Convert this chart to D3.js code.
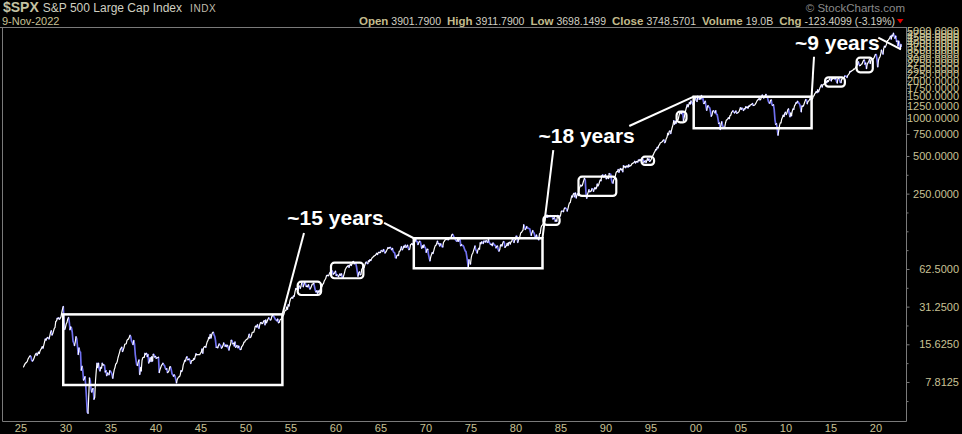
<!DOCTYPE html>
<html><head><meta charset="utf-8">
<script src="https://cdn.jsdelivr.net/npm/d3@7"></script>
<style>body{margin:0;background:#000}svg{display:block}</style>
</head><body><svg id="c" width="962" height="434"></svg>
<script>
// ---------------- DATA ----------------
const firstYear = 1925;
// monthly closes, one row per year (Jan..Dec); 2022 ends on 9-Nov
const monthlyCloses = [
/*1925*/[null,null,null,10.3,10.6,10.9,11.1,11.2,11.4,11.9,12.2,12.5],
/*1926*/[12.6,12.4,11.6,11.5,11.7,12.1,12.6,13.0,13.2,12.8,13.1,13.5],
/*1927*/[13.2,13.8,14.2,14.5,14.9,14.6,15.3,16.3,17.2,16.9,17.4,17.7],
/*1928*/[17.5,17.3,18.2,19.4,20.0,18.6,19.0,19.9,20.9,21.3,23.8,24.0],
/*1929*/[25.2,25.1,25.4,24.8,25.2,25.9,28.0,29.9,31.3,23.5,20.6,21.4],
/*1930*/[22.8,23.4,24.9,25.5,23.6,20.5,21.5,21.1,19.5,16.6,16.0,15.3],
/*1931*/[16.3,17.9,17.3,15.0,13.0,14.6,13.6,13.5,9.7,10.4,9.7,8.1],
/*1932*/[8.3,8.6,7.3,5.8,4.5,4.4,6.1,8.4,8.0,6.9,6.5,6.9],
/*1933*/[6.9,5.7,5.9,8.0,9.6,11.0,10.2,11.0,9.9,9.6,10.2,10.1],
/*1934*/[11.0,10.7,10.7,10.6,9.4,9.6,8.8,9.2,9.1,8.95,9.6,9.5],
/*1935*/[9.3,9.0,8.4,9.1,9.8,10.2,10.9,11.0,11.4,12.2,12.8,13.4],
/*1936*/[14.2,14.5,14.8,13.7,14.1,14.7,15.6,15.7,15.8,16.8,17.1,17.2],
/*1937*/[17.8,18.4,18.0,16.6,16.2,15.6,16.7,15.7,13.0,11.7,10.7,10.6],
/*1938*/[11.3,11.7,9.0,10.2,9.6,11.6,12.2,12.3,12.3,13.2,13.0,13.2],
/*1939*/[12.5,12.9,11.1,11.5,12.2,11.4,12.4,11.5,13.0,12.9,12.4,12.5],
/*1940*/[12.1,12.2,12.2,12.3,9.3,9.8,10.2,10.6,10.8,11.0,10.7,10.6],
/*1941*/[10.1,9.9,9.95,9.3,9.4,9.6,10.3,10.3,9.8,9.1,8.9,8.7],
/*1942*/[8.9,8.7,8.2,7.7,8.2,8.4,8.6,8.6,8.9,9.6,9.5,9.8],
/*1943*/[10.7,11.1,11.6,11.5,12.2,12.4,11.8,11.8,11.9,11.6,11.0,11.5],
/*1944*/[11.6,11.6,12.0,11.9,12.5,13.1,12.9,12.9,12.9,12.9,12.9,13.3],
/*1945*/[13.5,14.3,13.3,14.6,14.9,15.0,14.8,15.6,16.4,16.8,17.7,17.4],
/*1946*/[18.7,17.6,18.7,19.3,19.5,18.6,18.1,16.8,14.8,14.8,14.7,15.3],
/*1947*/[15.7,15.4,15.2,14.6,14.8,15.3,16.0,15.4,15.1,15.4,15.0,15.3],
/*1948*/[14.7,14.1,15.1,15.5,16.8,16.7,15.8,15.9,15.2,16.3,14.8,15.2],
/*1949*/[15.2,14.7,15.1,14.7,14.2,14.2,15.0,15.2,15.6,16.3,16.3,16.8],
/*1950*/[17.0,17.2,17.3,18.0,18.8,17.7,17.8,18.4,19.5,19.5,19.5,20.4],
/*1951*/[21.7,21.8,21.5,22.4,21.5,21.0,22.4,23.3,23.3,22.9,23.0,23.8],
/*1952*/[24.1,22.4,24.4,23.3,24.0,24.9,25.4,25.0,24.5,24.5,26.0,26.6],
/*1953*/[26.4,25.9,25.3,24.6,24.5,24.1,24.8,23.3,23.4,24.5,24.8,24.8],
/*1954*/[26.1,26.2,26.9,28.3,29.2,29.2,30.9,29.8,32.3,31.7,34.2,36.0],
/*1955*/[36.6,37.0,36.6,38.0,37.9,41.0,43.5,43.2,43.7,42.3,45.5,45.5],
/*1956*/[43.8,45.3,48.5,48.4,45.2,47.0,49.4,47.5,45.4,45.6,45.1,46.7],
/*1957*/[44.7,43.3,44.1,45.7,47.4,47.4,47.9,45.2,42.4,41.1,41.7,40.0],
/*1958*/[41.7,40.8,42.1,43.4,44.1,45.2,47.2,47.8,50.1,51.3,52.5,55.2],
/*1959*/[55.5,55.4,55.4,57.6,58.7,58.5,60.5,59.6,56.9,57.5,58.3,59.9],
/*1960*/[55.6,56.1,55.3,54.4,55.8,56.9,55.5,57.0,53.5,53.4,55.5,58.1],
/*1961*/[61.8,63.4,65.1,65.3,66.6,64.6,66.8,68.1,66.7,68.6,71.3,71.6],
/*1962*/[68.8,70.0,69.6,65.2,59.6,54.8,58.2,59.1,56.3,56.5,62.3,63.1],
/*1963*/[66.2,64.3,66.6,69.8,70.8,69.4,69.1,72.5,71.7,74.0,73.2,75.0],
/*1964*/[77.0,77.8,79.0,79.5,80.4,81.7,83.2,81.8,84.2,84.9,84.4,84.8],
/*1965*/[87.6,87.4,86.2,89.1,88.4,84.1,85.3,87.2,90.0,92.4,91.6,92.4],
/*1966*/[92.9,91.2,89.2,91.1,86.1,84.7,83.6,77.1,76.6,80.2,80.5,80.3],
/*1967*/[86.6,86.8,90.2,94.0,89.1,90.6,94.8,93.6,96.7,93.3,94.0,96.5],
/*1968*/[92.2,89.4,90.2,97.5,98.7,99.6,97.7,98.9,102.7,103.4,108.4,103.9],
/*1969*/[103.0,98.1,101.5,103.7,103.5,97.7,91.8,95.5,93.1,97.1,93.8,92.1],
/*1970*/[85.0,89.5,89.6,81.5,76.6,72.7,78.1,81.5,84.3,83.3,87.2,92.2],
/*1971*/[95.9,96.8,100.3,104.0,99.6,99.7,95.6,99.0,98.3,94.2,94.0,102.1],
/*1972*/[103.9,106.6,107.2,107.7,109.5,107.1,107.4,111.1,110.6,111.6,116.7,118.1],
/*1973*/[116.0,111.7,111.5,107.0,105.0,104.3,108.2,104.3,108.4,108.3,96.0,97.6],
/*1974*/[96.6,96.2,94.0,90.3,87.3,86.0,79.3,72.2,63.5,73.9,70.0,68.6],
/*1975*/[77.0,81.6,83.4,87.3,91.2,95.2,88.8,86.9,83.9,89.0,91.2,90.2],
/*1976*/[100.9,99.7,102.8,101.6,100.2,104.3,103.4,102.9,105.2,102.9,102.1,107.5],
/*1977*/[102.0,99.8,98.4,98.4,96.1,100.5,98.9,96.8,96.5,92.3,94.8,95.1],
/*1978*/[89.3,87.0,89.2,97.0,97.3,95.5,100.7,103.3,102.5,93.2,94.7,96.1],
/*1979*/[99.9,96.3,101.6,101.8,99.1,102.9,103.8,109.3,109.3,101.8,106.2,107.9],
/*1980*/[114.2,113.7,102.1,106.3,111.2,114.2,121.7,122.4,125.5,127.5,140.5,135.8],
/*1981*/[129.6,131.3,136.0,132.8,132.6,131.2,130.9,122.8,116.2,121.9,126.4,122.6],
/*1982*/[120.4,113.1,112.0,116.4,111.9,109.6,107.1,119.5,120.4,133.7,138.5,140.6],
/*1983*/[145.3,148.1,153.0,164.4,162.4,168.1,162.6,164.4,166.1,163.6,166.4,164.9],
/*1984*/[163.4,157.1,159.2,160.1,150.6,153.2,150.7,166.7,166.1,166.1,163.6,167.2],
/*1985*/[179.6,181.2,180.7,179.8,189.6,191.9,190.9,188.6,182.1,189.8,202.2,211.3],
/*1986*/[211.8,226.9,238.9,235.5,247.4,250.8,236.1,252.9,231.3,244.0,249.2,242.2],
/*1987*/[274.1,284.2,291.7,288.4,290.1,304.0,318.7,329.8,321.8,251.8,230.3,247.1],
/*1988*/[257.1,267.8,258.9,261.3,262.2,273.5,272.0,261.5,271.9,279.0,273.7,277.7],
/*1989*/[297.5,288.9,294.9,309.6,320.5,318.0,346.1,351.5,349.2,340.4,346.0,353.4],
/*1990*/[329.1,331.9,339.9,330.8,361.2,358.0,356.2,322.6,306.1,304.0,322.2,330.2],
/*1991*/[343.9,367.1,375.2,375.3,389.8,371.2,387.8,395.4,387.9,392.5,375.2,417.1],
/*1992*/[408.8,412.7,403.7,415.0,415.4,408.1,424.2,414.0,417.8,418.7,431.4,435.7],
/*1993*/[438.8,443.4,451.7,440.2,450.2,450.5,448.1,463.6,458.9,467.8,461.8,466.5],
/*1994*/[481.6,467.1,445.8,450.9,456.5,444.3,458.3,475.5,462.7,472.4,453.7,459.3],
/*1995*/[470.4,487.4,500.7,514.7,533.4,544.8,562.1,561.9,584.4,581.5,605.4,615.9],
/*1996*/[636.0,640.4,645.5,654.2,669.1,670.6,640.0,652.0,687.3,705.3,757.0,740.7],
/*1997*/[786.2,790.8,757.1,801.3,848.3,885.1,954.3,899.5,947.3,914.6,955.4,970.4],
/*1998*/[980.3,1049.3,1101.8,1111.8,1090.8,1133.8,1120.7,957.3,1017.0,1098.7,1163.6,1229.2],
/*1999*/[1279.6,1238.3,1286.4,1335.2,1301.8,1372.7,1328.7,1320.4,1282.7,1362.9,1388.9,1469.3],
/*2000*/[1394.5,1366.4,1498.6,1452.4,1420.6,1454.6,1430.8,1517.7,1436.5,1429.4,1315.2,1320.3],
/*2001*/[1366.0,1239.9,1160.3,1249.5,1255.8,1224.4,1211.2,1133.6,1040.9,1059.8,1139.5,1148.1],
/*2002*/[1130.2,1106.7,1147.4,1076.9,1067.1,989.8,911.6,916.1,815.3,885.8,936.3,879.8],
/*2003*/[855.7,841.2,848.2,916.9,963.6,974.5,990.3,1008.0,996.0,1050.7,1058.2,1111.9],
/*2004*/[1131.1,1144.9,1126.2,1107.3,1120.7,1140.8,1101.7,1104.2,1114.6,1130.2,1173.8,1211.9],
/*2005*/[1181.3,1203.6,1180.6,1156.9,1191.5,1191.3,1234.2,1220.3,1228.8,1207.0,1249.5,1248.3],
/*2006*/[1280.1,1280.7,1294.9,1310.6,1270.1,1270.2,1276.7,1303.8,1335.9,1377.9,1400.6,1418.3],
/*2007*/[1438.2,1406.8,1420.9,1482.4,1530.6,1503.4,1455.3,1474.0,1526.8,1549.4,1481.1,1468.4],
/*2008*/[1378.6,1330.6,1322.7,1385.6,1400.4,1280.0,1267.4,1282.8,1166.4,968.8,896.2,903.3],
/*2009*/[825.9,735.1,797.9,872.8,919.1,919.3,987.5,1020.6,1057.1,1036.2,1095.6,1115.1],
/*2010*/[1073.9,1104.5,1169.4,1186.7,1089.4,1030.7,1101.6,1049.3,1141.2,1183.3,1180.6,1257.6],
/*2011*/[1286.1,1327.2,1325.8,1363.6,1345.2,1320.6,1292.3,1218.9,1131.4,1253.3,1247.0,1257.6],
/*2012*/[1312.4,1365.7,1408.5,1397.9,1310.3,1362.2,1379.3,1406.6,1440.7,1412.2,1416.2,1426.2],
/*2013*/[1498.1,1514.7,1569.2,1597.6,1630.7,1606.3,1685.7,1633.0,1681.6,1756.5,1805.8,1848.4],
/*2014*/[1782.6,1859.5,1872.3,1884.0,1923.6,1960.2,1930.7,2003.4,1972.3,2018.1,2067.6,2058.9],
/*2015*/[1995.0,2104.5,2067.9,2085.5,2107.4,2063.1,2103.8,1972.2,1920.0,2079.4,2080.4,2043.9],
/*2016*/[1940.2,1932.2,2059.7,2065.3,2097.0,2098.9,2173.6,2171.0,2168.3,2126.2,2199.0,2238.8],
/*2017*/[2278.9,2363.6,2362.7,2384.2,2411.8,2423.4,2470.3,2471.7,2519.4,2575.3,2647.6,2673.6],
/*2018*/[2823.8,2713.8,2640.9,2648.1,2705.3,2718.4,2816.3,2901.5,2914.0,2711.7,2760.2,2506.9],
/*2019*/[2704.1,2784.5,2834.4,2945.8,2752.1,2941.8,2980.4,2926.5,2976.7,3037.6,3141.0,3230.8],
/*2020*/[3225.5,2954.2,2584.6,2912.4,3044.3,3100.3,3271.1,3500.3,3363.0,3270.0,3621.6,3756.1],
/*2021*/[3714.2,3811.2,3972.9,4181.2,4204.1,4297.5,4395.3,4522.7,4307.5,4605.4,4567.0,4766.2],
/*2022*/[4515.6,4373.9,4530.4,4131.9,4132.2,3785.4,4130.3,3955.0,3585.6,3872.0,3748.57]
];

const yTickValues = [7.8125, 15.625, 31.25, 62.5, 250, 500, 750, 1000, 1250, 1500, 1750, 2000,
  2250, 2500, 2750, 3000, 3250, 3500, 3750, 4000, 4250, 4500, 4750, 5000];
const yMinorTicks = [5.5, 11.05, 22.1, 44.2, 88.4, 125, 176.8, 353.6];
const xTickYears = [1925,1930,1935,1940,1945,1950,1955,1960,1965,1970,1975,1980,1985,1990,1995,2000,2005,2010,2015,2020];

// annotation boxes: [startYear, endYear, topValue, bottomValue]
const bigBoxes = [
  [1929.75, 1954.1, 27.1, 7.39],
  [1968.7, 1983.0, 110, 63.3],
  [1999.8, 2012.9, 1488, 833]
];
const smallBoxes = [
  [1955.8, 1958.4, 49.5, 38.7],
  [1959.5, 1963.1, 70.2, 52.7],
  [1983.1, 1984.9, 165.7, 140.5],
  [1987.0, 1991.2, 341.6, 239.5],
  [1994.0, 1995.4, 493.5, 423.8],
  [1997.9, 1999.0, 1129, 929],
  [2014.4, 2016.6, 2127, 1790],
  [2017.9, 2019.7, 3050, 2331]
];
// labels: [text, year, value at baseline]
const labels = [
  ["~15 years", 1954.65, 140],
  ["~18 years", 1982.55, 638],
  ["~9 years", 2011.05, 3514]
];
// pointer lines: [year1, value1, year2, value2]
const pointers = [
  [1956.5, 121.2, 1954.1, 27.1],
  [1965.4, 145.7, 1968.7, 110],
  [1984.2, 558, 1983.0, 110],
  [1992.64, 868, 1999.8, 1488],
  [2013.17, 3107, 2012.9, 1488],
  [2020.31, 4408, 2022.83, 3561]
];

const headerStats = [["Open","3901.7900"],["High","3911.7900"],["Low","3698.1499"],
  ["Close","3748.5701"],["Volume","19.0B"],["Chg","-123.4099 (-3.19%)"]];

// ---------------- CHART ----------------
const svg = d3.select("#c");
const W = 962, H = 434;
const plot = {left: 3, right: 906, top: 27, bottom: 421};
const x = d3.scaleLinear().domain([1923.056, 2023.39]).range([plot.left, plot.right]);
const y = d3.scaleLog().domain([3.81, 5366]).range([plot.bottom, plot.top]);

svg.append("rect").attr("width", W).attr("height", H).attr("fill", "#000");

const font = "'Liberation Sans', Arial, sans-serif";
const tan = "#c9c295";

// series points
const pts = [];
monthlyCloses.forEach((row, yi) => {
  row.forEach((v, m) => {
    if (v == null) return;
    let t = firstYear + yi + (m + 1) / 12;
    if (yi === monthlyCloses.length - 1 && m === row.length - 1) t = firstYear + yi + (m + 0.3) / 12;
    pts.push([t, v]);
  });
});

svg.append("clipPath").attr("id", "clip").append("rect")
  .attr("x", plot.left).attr("y", plot.top).attr("width", plot.right - plot.left).attr("height", plot.bottom - plot.top);

const gSeries = svg.append("g").attr("clip-path", "url(#clip)");
let upPath = "", downPath = "";
for (let i = 1; i < pts.length; i++) {
  const seg = `M${x(pts[i-1][0]).toFixed(2)},${y(pts[i-1][1]).toFixed(2)}L${x(pts[i][0]).toFixed(2)},${y(pts[i][1]).toFixed(2)}`;
  if (pts[i][1] >= pts[i-1][1]) upPath += seg; else downPath += seg;
}
gSeries.append("path").attr("d", downPath).attr("stroke", "#7070f0").attr("stroke-width", 1.7).attr("fill", "none").attr("stroke-linecap", "round");
gSeries.append("path").attr("d", upPath).attr("stroke", "#ffffff").attr("stroke-width", 1.2).attr("fill", "none").attr("stroke-linecap", "round");

// frame
const frame = svg.append("g").attr("stroke", "#7a7a7a").attr("stroke-width", 1).attr("fill", "none");
frame.append("line").attr("x1", 0).attr("x2", plot.right + 0.5).attr("y1", plot.top + 0.5).attr("y2", plot.top + 0.5);
frame.append("line").attr("x1", plot.left - 0.5).attr("x2", plot.left - 0.5).attr("y1", plot.top).attr("y2", plot.bottom + 0.5);
frame.append("line").attr("x1", plot.right + 0.5).attr("x2", plot.right + 0.5).attr("y1", plot.top).attr("y2", plot.bottom + 0.5);
frame.append("line").attr("x1", plot.left - 0.5).attr("x2", plot.right + 0.5).attr("y1", plot.bottom + 0.5).attr("y2", plot.bottom + 0.5);

// right axis
const yAxis = d3.axisRight(y).tickValues(yTickValues).tickSize(3).tickFormat(d3.format(".4f"));
const gy = svg.append("g").attr("transform", `translate(${plot.right + 0.5},0)`).call(yAxis);
gy.select(".domain").remove();
gy.selectAll(".tick line").attr("stroke", "#7a7a7a");
gy.selectAll(".tick text").attr("fill", tan).attr("font-family", font).attr("font-size", 11)
  .attr("text-anchor", "end").attr("x", 959 - plot.right - 0.5);
const gyMinor = svg.append("g").attr("transform", `translate(${plot.right + 0.5},0)`)
  .call(d3.axisRight(y).tickValues(yMinorTicks).tickSize(2).tickFormat(""));
gyMinor.select(".domain").remove();
gyMinor.selectAll(".tick line").attr("stroke", "#7a7a7a");

// bottom axis
const xAxis = d3.axisBottom(x).tickValues(xTickYears).tickSize(0).tickFormat(d => d3.format("02d")(d % 100));
const gx = svg.append("g").attr("transform", `translate(0,${plot.bottom})`).call(xAxis);
gx.select(".domain").remove();
gx.selectAll(".tick text").attr("fill", tan).attr("font-family", font).attr("font-size", 11).attr("dy", "0.72em").attr("y", 3);

// annotations
const gA = svg.append("g").attr("fill", "none").attr("stroke", "#fff");
bigBoxes.forEach(b => {
  gA.append("rect").attr("x", x(b[0])).attr("y", y(b[2])).attr("width", x(b[1]) - x(b[0]))
    .attr("height", y(b[3]) - y(b[2])).attr("stroke-width", 2.5);
});
smallBoxes.forEach(b => {
  gA.append("rect").attr("x", x(b[0])).attr("y", y(b[2])).attr("width", x(b[1]) - x(b[0]))
    .attr("height", y(b[3]) - y(b[2])).attr("rx", 3.5).attr("stroke-width", 2.2);
});
pointers.forEach(p => {
  gA.append("line").attr("x1", x(p[0])).attr("y1", y(p[1])).attr("x2", x(p[2])).attr("y2", y(p[3])).attr("stroke-width", 2);
});
labels.forEach(l => {
  svg.append("text").attr("x", x(l[1])).attr("y", y(l[2])).text(l[0])
    .attr("fill", "#fff").attr("font-family", font).attr("font-weight", "bold").attr("font-size", 21);
});

// header
const h1 = svg.append("text").attr("x", 3).attr("y", 12).attr("font-family", font).attr("fill", "#c4c2a2");
h1.append("tspan").attr("font-weight", "bold").attr("font-size", 14).text("$SPX");
h1.append("tspan").attr("dx", 4).attr("font-size", 12).attr("fill", "#d0cfc0").text("S&P 500 Large Cap Index");
h1.append("tspan").attr("dx", 8).attr("font-size", 10).attr("letter-spacing", 0.6).attr("fill", "#c0bfae").text("INDX");
svg.append("text").attr("x", 2).attr("y", 24.5).attr("font-family", font).attr("font-size", 11)
  .attr("fill", "#c9c295").text("9-Nov-2022");
svg.append("text").attr("x", 905).attr("y", 12).attr("text-anchor", "end").attr("font-family", font)
  .attr("font-size", 11.5).attr("fill", "#8a8a8a").text("© StockCharts.com");
const h2 = svg.append("text").attr("x", 895).attr("y", 25).attr("text-anchor", "end").attr("font-family", font);
headerStats.forEach((s, i) => {
  h2.append("tspan").attr("dx", i ? 6 : 0).attr("font-weight", "bold").attr("font-size", 11.5).attr("fill", "#c3bb8c").text(s[0]);
  h2.append("tspan").attr("dx", 3).attr("font-size", 10.5).attr("fill", "#d2d0c4").text(s[1]);
});
svg.append("path").attr("d", "M897,19L903.5,19L900.25,23.5Z").attr("fill", "#e00000");
</script>
</body></html>
